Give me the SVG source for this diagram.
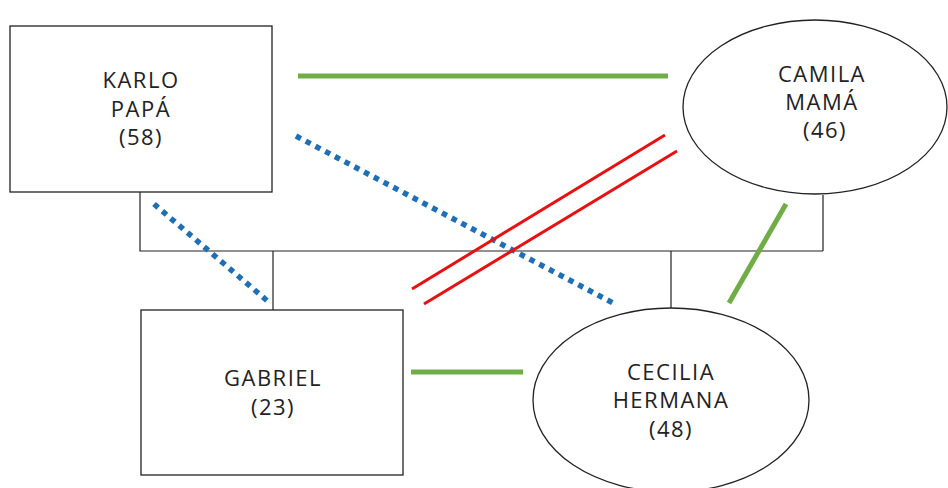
<svg xmlns="http://www.w3.org/2000/svg" width="948" height="488" viewBox="0 0 948 488">
<style>
.node{fill:#fff;stroke:#222;stroke-width:1.3}
.t{font-family:"Open Sans","Noto Sans",sans-serif;font-size:22px;fill:#222;text-anchor:middle;letter-spacing:1.5px}
.k{fill:none;stroke:#222;stroke-width:1.2}
.g{stroke:#70AD47;stroke-width:5;fill:none}
.b{stroke:#1F6FB5;stroke-width:5.5;stroke-dasharray:5.5 5.5;fill:none}
.r{stroke:#E81010;stroke-width:3;fill:none}
</style>
<rect width="948" height="488" fill="#fff"/>
<g id="connectors">
<path class="k" d="M140 192V251H823M823 195V251M273 251V310M671 251V308"/>
<line class="g" x1="298" y1="76" x2="668" y2="76"/>
<line class="g" x1="411" y1="372" x2="523" y2="372"/>
<line class="g" x1="786" y1="204" x2="729" y2="303"/>
<line class="b" x1="154" y1="204" x2="271" y2="304"/>
<line class="b" x1="296" y1="136" x2="615" y2="304"/>
<line class="r" x1="412" y1="289" x2="665" y2="135"/>
<line class="r" x1="424" y1="304" x2="677" y2="151"/>
</g>
<g id="karlo">
<rect class="node" x="10" y="26" width="262" height="166"/>
<text class="t" x="141" y="88">KARLO</text>
<text class="t" x="141" y="117">PAPÁ</text>
<text class="t" x="141" y="145">(58)</text>
</g>
<g id="camila">
<ellipse class="node" cx="815" cy="107" rx="132" ry="87"/>
<text class="t" x="822" y="82">CAMILA</text>
<text class="t" x="822" y="110">MAMÁ</text>
<text class="t" x="825" y="138">(46)</text>
</g>
<g id="gabriel">
<rect class="node" x="141" y="310" width="262" height="165"/>
<text class="t" x="273" y="386">GABRIEL</text>
<text class="t" x="273" y="415">(23)</text>
</g>
<g id="cecilia">
<ellipse class="node" cx="671" cy="400" rx="138" ry="92"/>
<text class="t" x="671" y="380">CECILIA</text>
<text class="t" x="671" y="408">HERMANA</text>
<text class="t" x="671" y="437">(48)</text>
</g>
</svg>
